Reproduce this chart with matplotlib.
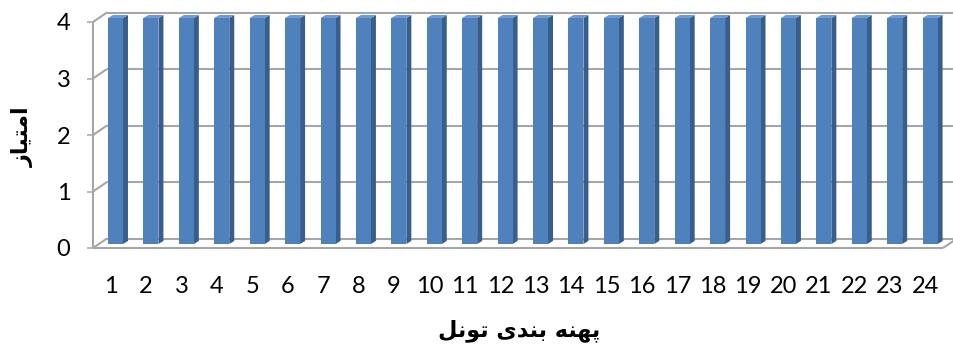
import matplotlib.pyplot as plt
import numpy as np
from matplotlib.patches import Polygon
from matplotlib.transforms import ScaledTranslation

# tunnel zones and their scores
zones = list(range(1, 25))
scores = [4] * 24
y_ticks = [0, 1, 2, 3, 4]

# Persian labels, written in presentation forms in visual (left-to-right) order
# "امتیاز"
y_title = "\ufeaf\ufe8e\ufef4\ufe98\ufee3\ufe8d"
# "پهنه بندی تونل"
x_title = ("\ufede\ufee7\ufeee\ufe97" + " " +
           "\ufeef\ufeaa\ufee8\ufe91" + " " +
           "\ufeea\ufee8\ufeec\ufb58")

face_color = "#4f81bd"
side_color = "#385e8c"
top_color = "#6f9bd2"
grid_color = "#a6a6a6"


def main():
    W, H = 954, 348
    fig = plt.figure(figsize=(W / 100, H / 100), dpi=100)
    # front plane of the 3D box, in pixels
    left, right, top, bottom = 93, 943, 22, 248
    ax = fig.add_axes([left / W, 1 - bottom / H, (right - left) / W, (bottom - top) / H])
    ax.set_xlim(0.5, len(zones) + 0.5)
    ax.set_ylim(0, 4)
    for s in ax.spines.values():
        s.set_visible(False)

    px_x = (right - left) / len(zones)   # pixels per category
    px_y = (bottom - top) / 4.0          # pixels per score unit

    # back wall offset (depth of the box)
    dxb, dyb = 14 / px_x, 9.5 / px_y
    gkw = dict(color=grid_color, lw=1.5, clip_on=False, zorder=1, solid_capstyle="butt")
    x0, x1 = 0.5, len(zones) + 0.5
    for yv in y_ticks:
        ax.plot([x0, x0 + dxb], [yv, yv + dyb], **gkw)
        ax.plot([x0 + dxb, x1 + dxb + 0.5], [yv + dyb, yv + dyb], **gkw)
    ax.plot([x0, x0], [0, 4], **gkw)
    ax.plot([x0, x1], [0, 0], **gkw)
    ax.plot([x1, x1 + dxb], [0, dyb], **gkw)

    # columns sit halfway into the box
    shift = ax.transData + ScaledTranslation(4.8 / 100, 4 / 100, fig.dpi_scale_trans)
    width = 15 / px_x
    ddx, ddy = 5 / px_x, 3 / px_y
    ax.bar(zones, scores, width=width, color=face_color, transform=shift,
           zorder=3, clip_on=False)
    for z, v in zip(zones, scores):
        xl, xr = z - width / 2, z + width / 2
        side = Polygon([(xr, 0), (xr + ddx, ddy), (xr + ddx, v + ddy), (xr, v)],
                       closed=True, fc=side_color, ec="none", transform=shift,
                       zorder=2, clip_on=False)
        cap = Polygon([(xl, v), (xr, v), (xr + ddx, v + ddy), (xl + ddx, v + ddy)],
                      closed=True, fc=top_color, ec="none", transform=shift,
                      zorder=2, clip_on=False)
        ax.add_patch(side)
        ax.add_patch(cap)

    ax.set_yticks(y_ticks)
    ax.set_yticklabels([str(t) for t in y_ticks], fontfamily="Lato", fontsize=17)
    ax.tick_params(axis="y", direction="out", length=4.3, width=1.1,
                   color=grid_color, pad=12)
    ax.set_xticks(zones)
    ax.set_xticklabels([str(z) for z in zones], fontfamily="Lato", fontsize=17)
    ax.tick_params(axis="x", length=0, pad=20)

    fig.text(23 / W, 1 - 137 / H, y_title, rotation=90, ha="center", va="center",
             fontfamily="DejaVu Sans", fontweight="bold", fontsize=16)
    fig.text(519 / W, 1 - 331 / H, x_title, ha="center", va="center",
             fontfamily="DejaVu Sans", fontweight="bold", fontsize=16)

    fig.savefig("out.png", dpi=100)


if __name__ == "__main__":
    main()
